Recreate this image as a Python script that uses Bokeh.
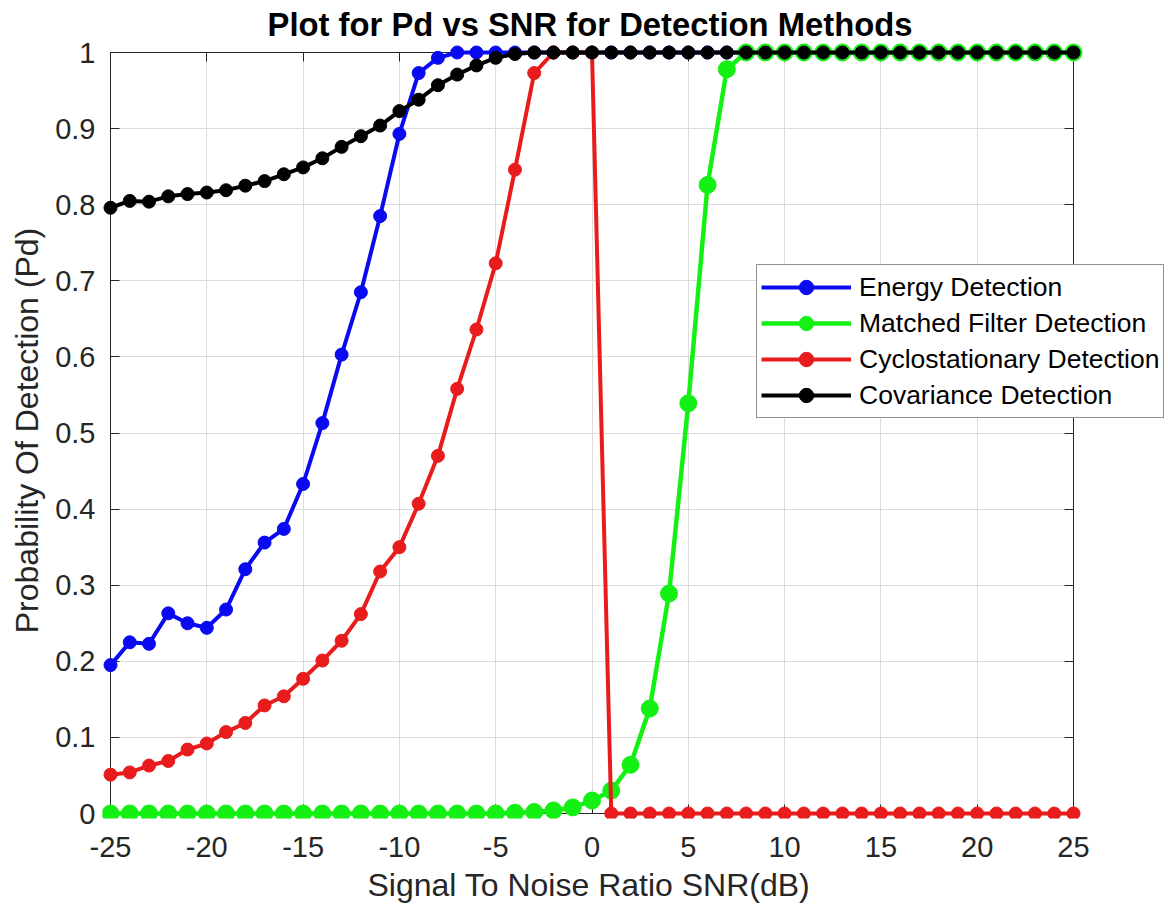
from bokeh.plotting import figure
from bokeh.models import Range1d, FixedTicker, LinearAxis, Legend, LegendItem, Title
from bokeh.embed import file_html
from bokeh.resources import INLINE

# ---- data ----
snr = list(range(-25, 26))

energy = [0.195, 0.225, 0.223, 0.263, 0.250, 0.244, 0.268, 0.321, 0.356, 0.374,
          0.433, 0.513, 0.603, 0.685, 0.785, 0.893, 0.973, 0.993, 1.0] + [1.0] * 32

matched = [0.0] * 21 + [0.001, 0.002, 0.004, 0.008, 0.017, 0.030, 0.064, 0.138,
                        0.289, 0.539, 0.826, 0.978] + [1.0] * 18

cyclo = [0.051, 0.054, 0.063, 0.069, 0.084, 0.092, 0.107, 0.119, 0.142, 0.154,
         0.177, 0.201, 0.227, 0.262, 0.318, 0.350, 0.407, 0.470, 0.558, 0.636,
         0.723, 0.846, 0.973, 1.0, 1.0, 1.0] + [0.0] * 25

covariance = [0.796, 0.805, 0.804, 0.811, 0.814, 0.816, 0.819, 0.825, 0.831, 0.840,
              0.849, 0.861, 0.876, 0.890, 0.904, 0.923, 0.938, 0.957, 0.971, 0.983,
              0.993, 0.998] + [1.0] * 29

series_names = ["Energy Detection", "Matched Filter Detection",
                "Cyclostationary Detection", "Covariance Detection"]

x_ticks = [-25, -20, -15, -10, -5, 0, 5, 10, 15, 20, 25]
x_tick_labels = ["-25", "-20", "-15", "-10", "-5", "0", "5", "10", "15", "20", "25"]
y_ticks = [0, 0.1, 0.2, 0.3, 0.4, 0.5, 0.6, 0.7, 0.8, 0.9, 1]
y_tick_labels = ["0", "0.1", "0.2", "0.3", "0.4", "0.5", "0.6", "0.7", "0.8", "0.9", "1"]

title_text = "Plot for Pd vs SNR for Detection Methods"
x_label = "Signal To Noise Ratio SNR(dB)"
y_label = "Probability Of Detection (Pd)"

# ---- layout (pixels) ----
W, H = 1168, 908
BOX_L, BOX_R, BOX_T, BOX_B = 110, 1073, 52, 813      # axes box
FR_L, FR_R, FR_T, FR_B = 102, 1166, 42, 818          # plotting frame (a bit larger)

x_min, x_max = x_ticks[0], x_ticks[-1]
y_min, y_max = y_ticks[0], y_ticks[-1]
sx = (BOX_R - BOX_L) / (x_max - x_min)
sy = (BOX_B - BOX_T) / (y_max - y_min)
x_start = x_min - (BOX_L - FR_L) / sx
x_end = x_max + (FR_R - BOX_R) / sx
y_start = y_min - (FR_B - BOX_B) / sy
y_end = y_max + (BOX_T - FR_T) / sy

# ---- styles ----
FONT = "Liberation Sans"
AX = "#262626"
colors = ["#0a0af0", "#14f014", "#e81c1c", "#000000"]
msizes = [13, 17, 13, 13]
lwidths = [4, 4.5, 4, 4]

p = figure(width=W, height=H,
           min_border_left=FR_L, min_border_right=W - FR_R,
           min_border_top=FR_T, min_border_bottom=H - FR_B,
           x_range=Range1d(x_start, x_end), y_range=Range1d(y_start, y_end),
           output_backend="svg", toolbar_location=None,
           background_fill_color="white", border_fill_color="white")

p.outline_line_color = None

p.title.text = title_text
p.title.align = "left"
p.title.offset = 165
p.title.standoff = 0
p.title.text_font = FONT
p.title.text_font_size = "32.8px"
p.title.text_font_style = "bold"
p.title.text_color = "#000000"

xt = FixedTicker(ticks=x_ticks)
yt = FixedTicker(ticks=y_ticks)

# labelled axes at the frame edges (line and ticks hidden)
p.xaxis.ticker = xt
p.yaxis.ticker = yt
p.xaxis.bounds = (x_min, x_max)
p.yaxis.bounds = (y_min, y_max)
p.xaxis.major_label_overrides = dict(zip(x_ticks, x_tick_labels))
p.yaxis.major_label_overrides = dict(zip(y_ticks, y_tick_labels))
p.yaxis.axis_label = y_label

for ax in (p.xaxis[0], p.yaxis[0]):
    ax.axis_line_color = None
    ax.major_tick_line_color = None
    ax.major_tick_in = 0
    ax.major_tick_out = 0
    ax.minor_tick_line_color = None
    ax.major_label_text_font = FONT
    ax.major_label_text_font_size = "29px"
    ax.major_label_text_color = AX
    ax.axis_label_text_font = FONT
    ax.axis_label_text_font_size = "32px"
    ax.axis_label_text_font_style = "normal"
    ax.axis_label_text_color = AX

p.xaxis.major_label_standoff = 23 - (FR_B - BOX_B)
p.yaxis.major_label_standoff = 15 - (BOX_L - FR_L)
p.yaxis.axis_label_standoff = 7

# x-axis label, centred under the axes box
xlab = Title(text=x_label, align="left", offset=265, standoff=10,
             vertical_align="bottom",
             text_font=FONT, text_font_size="32px", text_font_style="normal",
             text_color=AX)
p.add_layout(xlab, "below")

# axis box: lines and inward ticks at the data limits
for loc, tk, fixed, bnd in (("below", xt, y_min, (x_min, x_max)),
                            ("above", xt, y_max, (x_min, x_max)),
                            ("left", yt, x_min, (y_min, y_max)),
                            ("right", yt, x_max, (y_min, y_max))):
    ax = LinearAxis(ticker=tk, fixed_location=fixed, bounds=bnd,
                    major_label_overrides={t: "" for t in tk.ticks},
                    major_tick_in=9, major_tick_out=0,
                    minor_tick_line_color=None,
                    major_label_standoff=0,
                    axis_line_color=AX, major_tick_line_color=AX,
                    level="underlay")
    p.add_layout(ax, loc)

p.xgrid.ticker = FixedTicker(ticks=x_ticks[1:-1])
p.ygrid.ticker = FixedTicker(ticks=y_ticks[1:-1])
p.xgrid.cross_bounds = (y_min, y_max)
p.ygrid.cross_bounds = (x_min, x_max)
p.grid.level = "image"
p.grid.grid_line_color = "#dcdcdc"
p.grid.grid_line_width = 1

items = []
for name, ys, c, ms, lw in zip(series_names, [energy, matched, cyclo, covariance],
                               colors, msizes, lwidths):
    lr = p.line(snr, ys, line_color=c, line_width=lw, line_join="round")
    sr = p.scatter(snr, ys, marker="circle", size=ms, fill_color=c, line_color=c)
    items.append(LegendItem(label=name, renderers=[lr, sr]))

legend = Legend(items=items, location=(756 - FR_L, FR_B - 418),
                label_text_font=FONT, label_text_font_size="26.5px",
                label_text_color="#000000",
                glyph_width=90, glyph_height=36, label_height=36,
                label_standoff=8, padding=4, spacing=0, margin=0,
                border_line_color=AX, border_line_width=1,
                background_fill_color="white", background_fill_alpha=1.0)
p.add_layout(legend, "center")

open("out.html", "w").write(file_html(p, INLINE))
